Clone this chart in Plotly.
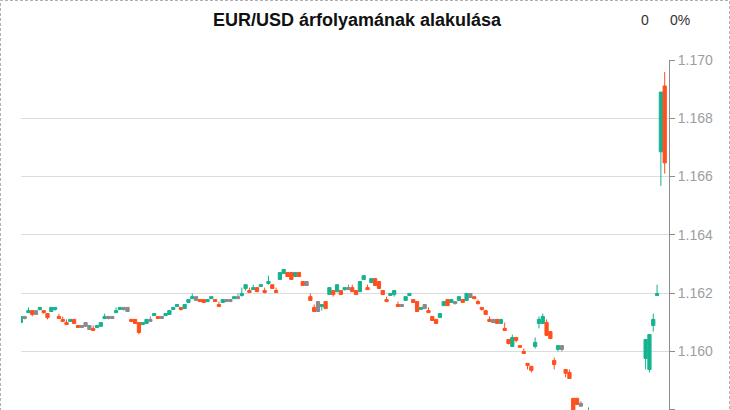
import plotly.graph_objects as go

# slot index of each candle (equally spaced periods)
slots = list(range(0, 148)) + [149, 164, 165, 166, 167, 168, 169]

# U = rising (teal), D = falling (red), F = unchanged (grey)
kinds = (
    ["U", "F", "U", "D", "F", "U", "D", "D", "U", "U"] +
    ["D", "D", "D", "U", "D", "D", "F", "F", "F", "D"] +
    ["U", "U", "U", "F", "F", "U", "U", "F", "F", "D"] +
    ["D", "D", "U", "U", "F", "U", "D", "F", "U", "U"] +
    ["U", "U", "D", "U", "U", "U", "F", "D", "D", "U"] +
    ["U", "D", "D", "U", "F", "F", "U", "F", "U", "U"] +
    ["D", "U", "D", "U", "D", "U", "D", "D", "U", "U"] +
    ["D", "D", "U", "D", "D", "F", "D", "D", "F", "U"] +
    ["D", "U", "D", "U", "D", "U", "F", "D", "D", "U"] +
    ["U", "D", "U", "D", "D", "D", "D", "U", "U", "D"] +
    ["F", "U", "U", "D", "D", "U", "F", "D", "D", "D"] +
    ["U", "U", "D", "U", "F", "U", "D", "U", "F", "D"] +
    ["D", "D", "D", "D", "F", "D", "U", "D", "D", "U"] +
    ["D", "D", "D", "D", "D", "U", "U", "U", "D", "D"] +
    ["D", "U", "F", "D", "D", "D", "D", "F"] +
    ["U", "U", "U", "U", "U", "U", "D"]
)

opens = [
    1.16099, 1.16120, 1.16133, 1.16140, 1.16140, 1.16144, 1.16140, 1.16130, 1.16137, 1.16144,
    1.16120, 1.16110, 1.16099, 1.16103, 1.16110, 1.16089, 1.16089, 1.16099, 1.16089, 1.16079,
    1.16082, 1.16086, 1.16113, 1.16120, 1.16120, 1.16133, 1.16144, 1.16151, 1.16151, 1.16110,
    1.16110, 1.16099, 1.16092, 1.16096, 1.16110, 1.16123, 1.16120, 1.16120, 1.16123, 1.16127,
    1.16144, 1.16154, 1.16151, 1.16147, 1.16168, 1.16181, 1.16188, 1.16178, 1.16178, 1.16171,
    1.16181, 1.16178, 1.16161, 1.16168, 1.16178, 1.16178, 1.16181, 1.16188, 1.16192, 1.16216,
    1.16209, 1.16212, 1.16219, 1.16223, 1.16209, 1.16233, 1.16229, 1.16209, 1.16247, 1.16267,
    1.16271, 1.16271, 1.16257, 1.16271, 1.16240, 1.16240, 1.16188, 1.16151, 1.16171, 1.16154,
    1.16171, 1.16195, 1.16209, 1.16205, 1.16209, 1.16212, 1.16219, 1.16219, 1.16209, 1.16205,
    1.16247, 1.16219, 1.16236, 1.16250, 1.16240, 1.16209, 1.16178, 1.16192, 1.16195, 1.16161,
    1.16161, 1.16175, 1.16192, 1.16178, 1.16171, 1.16144, 1.16161, 1.16140, 1.16120, 1.16110,
    1.16116, 1.16157, 1.16178, 1.16168, 1.16171, 1.16175, 1.16178, 1.16175, 1.16199, 1.16188,
    1.16171, 1.16151, 1.16140, 1.16110, 1.16110, 1.16110, 1.16096, 1.16079, 1.16041, 1.16017,
    1.16048, 1.16020, 1.16000, 1.15959, 1.15949, 1.16017, 1.16096, 1.16096, 1.16099, 1.16068,
    1.15969, 1.16007, 1.16020, 1.15938, 1.15928, 1.15839, 1.15839, 1.15822,
    1.15781, 1.15976, 1.15938, 1.16089, 1.16192, 1.16685, 1.16911,
]

closes = [
    1.16120, 1.16113, 1.16140, 1.16127, 1.16127, 1.16151, 1.16133, 1.16116, 1.16151, 1.16151,
    1.16113, 1.16103, 1.16092, 1.16110, 1.16096, 1.16082, 1.16082, 1.16086, 1.16075, 1.16072,
    1.16089, 1.16099, 1.16120, 1.16113, 1.16113, 1.16140, 1.16151, 1.16144, 1.16137, 1.16103,
    1.16096, 1.16065, 1.16099, 1.16110, 1.16103, 1.16130, 1.16113, 1.16113, 1.16130, 1.16140,
    1.16151, 1.16161, 1.16144, 1.16161, 1.16178, 1.16188, 1.16175, 1.16171, 1.16168, 1.16178,
    1.16188, 1.16171, 1.16154, 1.16178, 1.16171, 1.16171, 1.16188, 1.16181, 1.16199, 1.16229,
    1.16202, 1.16219, 1.16205, 1.16229, 1.16202, 1.16240, 1.16216, 1.16202, 1.16271, 1.16281,
    1.16257, 1.16247, 1.16271, 1.16257, 1.16226, 1.16226, 1.16175, 1.16137, 1.16137, 1.16161,
    1.16147, 1.16219, 1.16195, 1.16229, 1.16195, 1.16219, 1.16212, 1.16205, 1.16195, 1.16240,
    1.16260, 1.16212, 1.16250, 1.16226, 1.16216, 1.16195, 1.16171, 1.16199, 1.16209, 1.16154,
    1.16154, 1.16188, 1.16199, 1.16168, 1.16137, 1.16151, 1.16147, 1.16133, 1.16106, 1.16096,
    1.16130, 1.16171, 1.16157, 1.16178, 1.16164, 1.16188, 1.16168, 1.16199, 1.16185, 1.16181,
    1.16164, 1.16144, 1.16127, 1.16103, 1.16099, 1.16096, 1.16110, 1.16072, 1.16027, 1.16048,
    1.16038, 1.16014, 1.15993, 1.15952, 1.15935, 1.16031, 1.16110, 1.16120, 1.16055, 1.16044,
    1.15955, 1.16020, 1.16007, 1.15925, 1.15907, 1.15795, 1.15818, 1.15812,
    1.15795, 1.16041, 1.16058, 1.16110, 1.16199, 1.16890, 1.16647,
]

highs = [
    1.16120, 1.16120, 1.16151, 1.16140, 1.16140, 1.16151, 1.16140, 1.16130, 1.16151, 1.16151,
    1.16130, 1.16120, 1.16110, 1.16110, 1.16110, 1.16089, 1.16089, 1.16099, 1.16089, 1.16089,
    1.16089, 1.16099, 1.16130, 1.16120, 1.16120, 1.16151, 1.16151, 1.16151, 1.16151, 1.16110,
    1.16110, 1.16099, 1.16099, 1.16110, 1.16120, 1.16130, 1.16120, 1.16120, 1.16130, 1.16140,
    1.16151, 1.16161, 1.16151, 1.16161, 1.16178, 1.16199, 1.16188, 1.16178, 1.16178, 1.16178,
    1.16188, 1.16178, 1.16171, 1.16178, 1.16178, 1.16178, 1.16188, 1.16199, 1.16219, 1.16229,
    1.16219, 1.16229, 1.16219, 1.16229, 1.16219, 1.16260, 1.16229, 1.16219, 1.16271, 1.16281,
    1.16271, 1.16271, 1.16271, 1.16271, 1.16240, 1.16240, 1.16199, 1.16161, 1.16171, 1.16161,
    1.16171, 1.16219, 1.16209, 1.16229, 1.16209, 1.16219, 1.16229, 1.16229, 1.16209, 1.16240,
    1.16260, 1.16229, 1.16250, 1.16250, 1.16240, 1.16209, 1.16188, 1.16199, 1.16209, 1.16171,
    1.16161, 1.16188, 1.16199, 1.16178, 1.16171, 1.16151, 1.16161, 1.16151, 1.16120, 1.16110,
    1.16130, 1.16171, 1.16178, 1.16178, 1.16171, 1.16188, 1.16178, 1.16199, 1.16199, 1.16188,
    1.16178, 1.16151, 1.16140, 1.16120, 1.16110, 1.16110, 1.16110, 1.16099, 1.16041, 1.16058,
    1.16048, 1.16020, 1.16010, 1.15959, 1.15949, 1.16048, 1.16120, 1.16130, 1.16110, 1.16068,
    1.15979, 1.16020, 1.16020, 1.15938, 1.15938, 1.15839, 1.15839, 1.15829,
    1.15808, 1.16041, 1.16058, 1.16130, 1.16229, 1.16890, 1.16959,
]

lows = [
    1.16099, 1.16110, 1.16133, 1.16120, 1.16127, 1.16140, 1.16130, 1.16110, 1.16137, 1.16140,
    1.16113, 1.16103, 1.16092, 1.16103, 1.16096, 1.16082, 1.16082, 1.16086, 1.16075, 1.16072,
    1.16082, 1.16086, 1.16113, 1.16110, 1.16113, 1.16133, 1.16144, 1.16140, 1.16137, 1.16103,
    1.16096, 1.16058, 1.16092, 1.16096, 1.16103, 1.16123, 1.16113, 1.16113, 1.16123, 1.16127,
    1.16144, 1.16154, 1.16140, 1.16147, 1.16168, 1.16181, 1.16175, 1.16171, 1.16168, 1.16171,
    1.16181, 1.16171, 1.16154, 1.16168, 1.16171, 1.16171, 1.16181, 1.16181, 1.16188, 1.16209,
    1.16202, 1.16212, 1.16205, 1.16223, 1.16199, 1.16229, 1.16216, 1.16202, 1.16247, 1.16267,
    1.16257, 1.16247, 1.16257, 1.16257, 1.16226, 1.16226, 1.16175, 1.16137, 1.16137, 1.16140,
    1.16147, 1.16195, 1.16188, 1.16205, 1.16195, 1.16209, 1.16212, 1.16205, 1.16195, 1.16205,
    1.16247, 1.16212, 1.16236, 1.16226, 1.16216, 1.16195, 1.16171, 1.16192, 1.16188, 1.16154,
    1.16154, 1.16175, 1.16192, 1.16168, 1.16137, 1.16144, 1.16147, 1.16133, 1.16106, 1.16096,
    1.16116, 1.16157, 1.16157, 1.16168, 1.16161, 1.16175, 1.16168, 1.16175, 1.16185, 1.16181,
    1.16161, 1.16140, 1.16127, 1.16103, 1.16099, 1.16096, 1.16096, 1.16072, 1.16024, 1.16017,
    1.16031, 1.16014, 1.15993, 1.15938, 1.15928, 1.16010, 1.16079, 1.16096, 1.16055, 1.16044,
    1.15938, 1.16000, 1.16000, 1.15911, 1.15907, 1.15784, 1.15818, 1.15812,
    1.15774, 1.15938, 1.15928, 1.16068, 1.16192, 1.16568, 1.16610,
]

title_text = "EUR/USD árfolyamának alakulása"
change_abs = "0"
change_pct = "0%"

UP = "#14b390"
DOWN = "#ff4f1f"
FLAT = "#8a8a8a"

W, H = 730, 410
ML, MR, MT, MB = 21, 61, 60, 0
PW, PH = W - ML - MR, H - MT - MB

fig = go.Figure()


def subset(kind):
    sel = [i for i, k in enumerate(kinds) if k == kind]
    return ([slots[i] for i in sel], [opens[i] for i in sel], [highs[i] for i in sel],
            [lows[i] for i in sel], [closes[i] for i in sel])


for kind, col in (("U", UP), ("D", DOWN), ("F", FLAT)):
    xs, o, h, l, c = subset(kind)
    fig.add_trace(go.Candlestick(
        x=xs, open=o, high=h, low=l, close=c,
        increasing=dict(line=dict(color=col, width=1), fillcolor=col),
        decreasing=dict(line=dict(color=col, width=1), fillcolor=col),
        whiskerwidth=0, showlegend=False, hoverinfo="skip",
    ))

fig.update_layout(
    width=W, height=H,
    margin=dict(l=ML, r=MR, t=MT, b=MB, pad=0),
    paper_bgcolor="white", plot_bgcolor="white",
    boxgap=0.15, boxgroupgap=0,
    showlegend=False,
    font=dict(family="Arial, 'Liberation Sans', sans-serif"),
    xaxis=dict(visible=False, range=[0.05, 170.13], rangeslider=dict(visible=False),
               showgrid=False, zeroline=False),
    yaxis=dict(side="right", range=[1.15799, 1.170], dtick=0.002, tick0=1.158,
               tickformat=".3f", showgrid=True, gridcolor="#d9dce0", gridwidth=1,
               showline=True, linecolor="#8c8c8c", linewidth=1,
               ticks="outside", ticklen=5, tickcolor="#8c8c8c",
               tickfont=dict(size=14, color="#9b9ea3"), zeroline=False),
    annotations=[
        dict(text="<b>" + title_text + "</b>", xref="paper", yref="paper",
             x=(357 - ML) / PW, y=1 + (MT - 20) / PH, xanchor="center", yanchor="middle",
             showarrow=False, font=dict(size=18, color="#111111")),
        dict(text=change_abs, xref="paper", yref="paper",
             x=(645 - ML) / PW, y=1 + (MT - 20) / PH, xanchor="center", yanchor="middle",
             showarrow=False, font=dict(size=14, color="#333333")),
        dict(text=change_pct, xref="paper", yref="paper",
             x=(680 - ML) / PW, y=1 + (MT - 20) / PH, xanchor="center", yanchor="middle",
             showarrow=False, font=dict(size=14, color="#333333")),
    ],
    shapes=[
        dict(type="rect", xref="paper", yref="paper",
             x0=(0.5 - ML) / PW, x1=1 + (MR - 0.5) / PW,
             y0=-0.2, y1=1 + (MT - 0.5) / PH,
             line=dict(color="#b0b0b0", width=1, dash="3px,2px"),
             fillcolor="rgba(0,0,0,0)", layer="above"),
    ],
)

fig.write_html(
    "out.html",
    config={"displayModeBar": False},
    post_script="document.body.style.margin='0';document.body.style.overflow='hidden';",
)
